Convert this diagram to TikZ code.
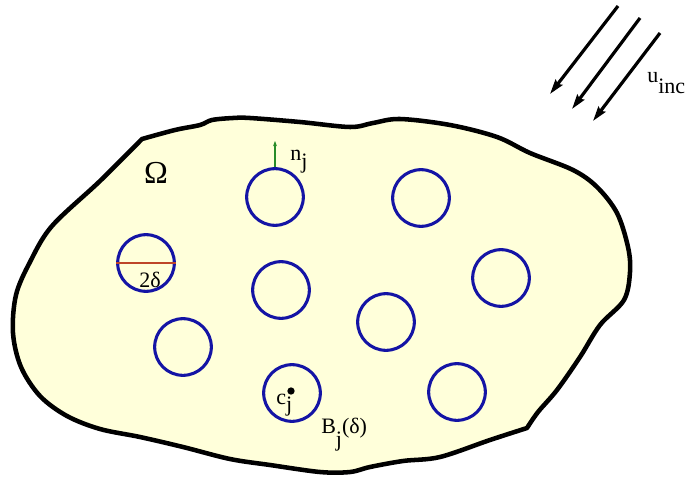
\documentclass[tikz,border=0pt]{standalone}
\usepackage{fontspec}
\setmainfont{Liberation Serif}
\usetikzlibrary{arrows.meta}
\definecolor{blobfill}{RGB}{255,255,218}
\definecolor{holeblue}{RGB}{20,20,165}
\definecolor{normgreen}{RGB}{40,140,40}
\definecolor{diamred}{RGB}{190,70,40}
\begin{document}
\begin{tikzpicture}[x=0.75pt,y=-0.75pt,
  blob/.style={draw=black,line width=3.4pt,fill=blobfill,line join=round},
  hole/.style={circle,draw=holeblue,line width=2.3pt,minimum size=42.5pt,inner sep=0pt},
  wave/.style={line width=2.4pt,-{Stealth[length=11pt,width=6.5pt,inset=1.5pt]}},
  lbl/.style={inner sep=0pt,font=\fontsize{16.5}{19}\selectfont}]
\useasboundingbox (0,0) rectangle (689,478);
% domain Omega
\draw[blob] plot[smooth,tension=0.55] coordinates {(142,139) (175,130) (200,125) (212,120) (233,118) (250,118) (300,122) (350,127) (373,123) (400,119) (450,125) (497,137) (530,153) (573,170) (597,187) (617,213) (628,247) (630,272) (624,300) (600,325) (580,357) (557,390) (538,412) (527,428)}
  -- plot[smooth,tension=0.55] coordinates {(527,428) (490,440) (440,457) (403,461) (370,467) (350,472) (320,472) (270,465) (230,459) (183,447) (140,437) (100,429) (67,416) (40,396) (21,367) (13,333) (16,295) (30,262) (52,226) (100,181) (142,139)} -- cycle;
% holes
\node[hole] (b1) at (275,197) {};
\node[hole] (b2) at (421,198) {};
\node[hole] (b3) at (146,263) {};
\node[hole] (b4) at (281,290) {};
\node[hole] (b5) at (501,278) {};
\node[hole] (b6) at (386,322) {};
\node[hole] (b7) at (183,347) {};
\node[hole] (b8) at (292,393) {};
\node[hole] (b9) at (457,392) {};
% diameter
\draw[diamred,line width=0.8pt] (b3.west) -- (b3.east);
\node[lbl,anchor=base] (ldiam) at (150,287) {2δ};
% normal
\coordinate (ntip) at (275,141);
\draw[normgreen,line width=1.1pt,-{Stealth[length=4pt,width=3pt]}] (b1.north) -- (ntip);
\node[lbl,anchor=base west] (lnj) at (290,160) {n\raisebox{-0.4em}{j}};
% centre
\node[circle,fill=black,inner sep=0pt,minimum size=5.5pt] (cj) at (291,391) {};
\node[lbl,anchor=base west] (lcj) at (276,404) {c\raisebox{-0.35em}{j}};
\node[lbl,anchor=base west] (lbj) at (321,433) {B\raisebox{-0.6em}{j}(δ)};
% Omega
\node[inner sep=0pt,font=\fontsize{24}{28}\selectfont,anchor=base] (lom) at (156,183) {Ω};
% incident wave
\coordinate (a1s) at (618,6);  \coordinate (a1e) at (550,94);
\coordinate (a2s) at (640,18); \coordinate (a2e) at (572,109);
\coordinate (a3s) at (660,33); \coordinate (a3e) at (593,121);
\draw[wave] (a1s) -- (a1e);
\draw[wave] (a2s) -- (a2e);
\draw[wave] (a3s) -- (a3e);
\node[lbl,anchor=base west] (luinc) at (647,83) {u\raisebox{-0.5em}{inc}};
\end{tikzpicture}
\end{document}
